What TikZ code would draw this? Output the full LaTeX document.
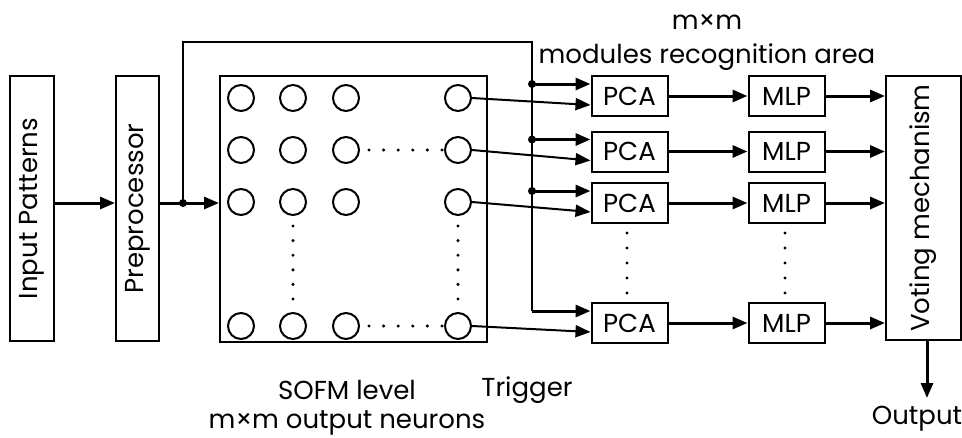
\documentclass[tikz,border=0pt]{standalone}
\usepackage{fontspec}
\setmainfont{Poppins}
\usepackage{tikz}
\usetikzlibrary{arrows.meta, positioning}

\begin{document}
\begin{tikzpicture}[x=1pt, y=-1pt,
    font=\fontsize{26}{28}\selectfont,
    box/.style={draw, line width=2pt, inner sep=0pt},
    unit/.style={box, minimum width=76pt, minimum height=40pt},
    neuron/.style={draw, circle, line width=2pt, minimum size=26pt, inner sep=0pt},
    flow/.style={line width=3pt, -{Triangle[length=15pt, width=12pt]}},
    link/.style={line width=2pt, -{Triangle[length=15pt, width=12pt]}},
    tap/.style={circle, fill, inner sep=0pt, minimum size=8pt}]
  \useasboundingbox (0,0) rectangle (962,437);

  % tall boxes
  \node[box, minimum width=44pt, minimum height=265pt] (inp) at (32,208.5) {\rotatebox{90}{Input Patterns}};
  \node[box, minimum width=43pt, minimum height=265pt] (pre) at (137.5,208.5) {\rotatebox{90}{Preprocessor}};
  \node[box, minimum width=267pt, minimum height=266pt] (sofm) at (353.5,209) {};
  \node[box, minimum width=75pt, minimum height=264pt] (vote) at (923.5,208) {\rotatebox{90}{Voting mechanism}};

  % SOFM neurons: row r, column c
  \foreach \r/\y in {1/98, 2/150, 3/202, 4/326}
    \foreach \c/\x in {1/241, 2/293, 3/346, 4/458}
      \node[neuron] (n\r\c) at (\x,\y) {};

  % dots inside the map
  \foreach \k in {0,...,5} {
    \fill (369+\k*14.6,150) circle (1.7pt);
    \fill (369+\k*14.6,326) circle (1.7pt);
    \fill (293,226+\k*14.6) circle (1.7pt);
    \fill (458,226+\k*14.6) circle (1.7pt);
  }

  % recognition modules
  \foreach \i/\y in {1/96, 2/151.5, 3/203, 4/323} {
    \node[unit] (pca\i) at (629.5,\y) {PCA};
    \node[unit] (mlp\i) at (786.5,\y) {MLP};
    \coordinate (tin\i) at ([yshift=12pt]pca\i.west);
    \coordinate (nin\i) at ([yshift=-9pt]pca\i.west);
  }
  \foreach \k in {0,...,4} {
    \fill (627,233+\k*15) circle (1.7pt);
    \fill (785,233+\k*15) circle (1.7pt);
  }

  % input path
  \coordinate (split) at (183,203);
  \coordinate (top) at (532,42);
  \draw[flow] (inp.east |- split) -- (pre.west |- split);
  \draw[flow] (pre.east |- split) -- (sofm.west |- split);
  \node[tap] at (split) {};

  % trigger line
  \draw[line width=2pt] (split) -- (split |- top) -- (top) -- (top |- tin4);
  \foreach \i in {1,2,3,4}
    \draw[flow] (top |- tin\i) -- (tin\i);
  \foreach \i in {1,2,3}
    \node[tap] at (top |- tin\i) {};

  % neuron outputs to the modules
  \draw[link] (n14.east) -- (nin1);
  \draw[link] (n24.east) -- (nin2);
  \draw[link] (n34.east) -- (nin3);
  \draw[link] (n44.east) -- (nin4);

  % PCA -> MLP -> voting
  \foreach \i in {1,2,3,4} {
    \draw[flow] (pca\i) -- (mlp\i);
    \draw[flow] (mlp\i.east) -- (vote.west |- mlp\i);
  }

  % output
  \coordinate (out) at (927,398);
  \draw[flow] (vote.south -| out) -- (out);
  \node (outlbl) at (917,419) {Output};

  % captions
  \node (mm) at (707,22) {m×m};
  \node (area) at (707,57) {modules recognition area};
  \node (level) at (347,390) {SOFM level};
  \node (trig) at (527,390) {Trigger};
  \node (neurons) at (347,423) {m×m output neurons};
\end{tikzpicture}
\end{document}
